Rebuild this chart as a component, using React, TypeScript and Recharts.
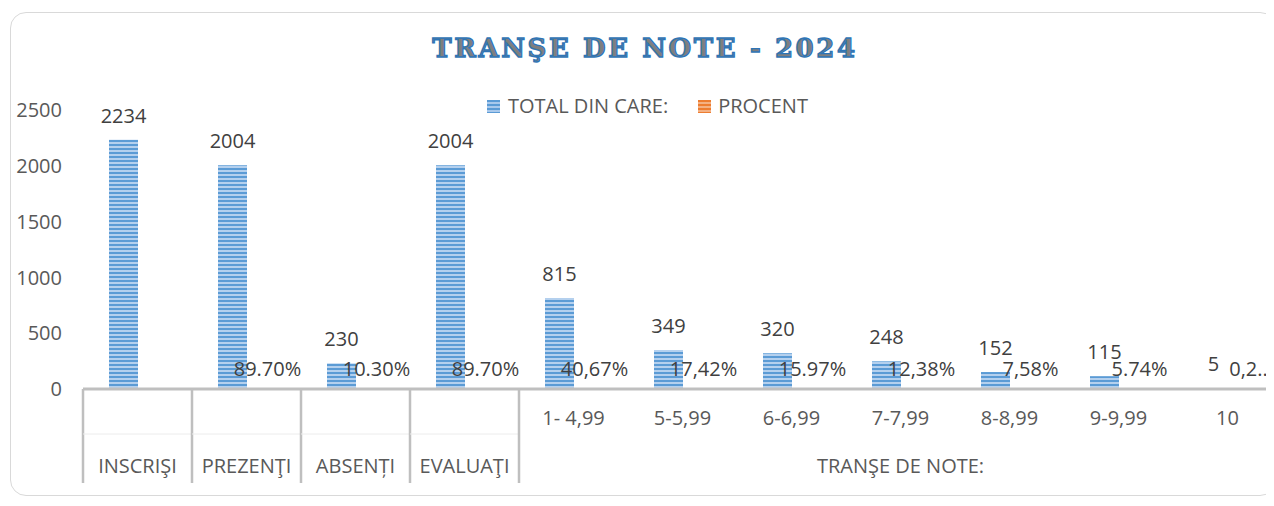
import React from "react";
import { BarChart, Bar, XAxis, YAxis, LabelList } from "recharts";

const categories = [
  "INSCRIŞI",
  "PREZENŢI",
  "ABSENȚI",
  "EVALUAŢI",
  "1- 4,99",
  "5-5,99",
  "6-6,99",
  "7-7,99",
  "8-8,99",
  "9-9,99",
  "10",
];
const totals = [2234, 2004, 230, 2004, 815, 349, 320, 248, 152, 115, 5];
const percents = [null, 0.897, 0.103, 0.897, 0.4067, 0.1742, 0.1597, 0.1238, 0.0758, 0.0574, 0.0025];
const percentLabels = ["", "89.70%", "10.30%", "89.70%", "40,67%", "17,42%", "15.97%", "12,38%", "7,58%", "5.74%", "0,2.."];
const yTicks = [0, 500, 1000, 1500, 2000, 2500];
const groupLabel = "TRANŞE DE NOTE:";
const groupStart = 4; // first category inside the "TRANŞE DE NOTE:" group

const data = categories.map((name, i) => ({
  name,
  total: totals[i],
  procent: percents[i],
  procentLabel: percentLabels[i],
}));

const FONT = "'Open Sans', sans-serif";
const LINE = "#bfbfbf";

const CategoryTick = (props: any) => {
  const { x, y, payload, index } = props;
  const half = payload.offset || 0;
  const left = x - half;
  const inGroup = index >= groupStart;
  const middle = Math.floor((groupStart + categories.length - 1) / 2);
  return (
    <g>
      {index <= groupStart && (
        <line x1={left} x2={left} y1={y} y2={y + 94} stroke={LINE} strokeWidth={2.5} />
      )}
      {!inGroup && (
        <line x1={left} x2={left + half * 2} y1={y + 45} y2={y + 45} stroke="#ececec" strokeWidth={1} />
      )}
      <text
        x={x}
        y={inGroup ? y + 36 : y + 84}
        textAnchor="middle"
        fill="#595959"
        fontSize={20}
        fontFamily={FONT}
      >
        {payload.value}
      </text>
      {index === middle && (
        <text x={x} y={y + 84} textAnchor="middle" fill="#595959" fontSize={20} fontFamily={FONT}>
          {groupLabel}
        </text>
      )}
    </g>
  );
};

const PercentLabel = (props: any) => {
  const { x, y, width, value } = props;
  if (!value) return null;
  return (
    <text x={x + width / 2 + 6} y={y - 13} textAnchor="middle" fill="#404040" fontSize={20} fontFamily={FONT}>
      {value}
    </text>
  );
};

const stripes = (a: string, b: string) =>
  `repeating-linear-gradient(180deg, ${a} 0px, ${a} 2px, ${b} 2px, ${b} 4px)`;

export default function App() {
  return (
    <div
      style={{
        position: "relative",
        width: 1274,
        height: 506,
        margin: "-8px 0 0 -8px",
        overflow: "hidden",
        background: "#fff",
        fontFamily: FONT,
      }}
    >
      <div
        style={{
          position: "absolute",
          left: 10,
          top: 12,
          width: 1266,
          height: 484,
          border: "1.5px solid #d9d9d9",
          borderRadius: 16,
          boxSizing: "border-box",
        }}
      />
      <div
        style={{
          position: "absolute",
          left: 0,
          width: 1290,
          top: 30,
          textAlign: "center",
          fontFamily: "'DejaVu Serif', serif",
          fontWeight: "bold",
          fontSize: 26,
          letterSpacing: 2.6,
          color: "#7f7f7f",
          WebkitTextStroke: "1.3px #2e75b6",
          lineHeight: "36px",
        }}
      >
        TRANŞE DE NOTE - 2024
      </div>
      <div
        style={{
          position: "absolute",
          left: 487,
          top: 92,
          display: "flex",
          alignItems: "center",
          fontSize: 20,
          color: "#595959",
          lineHeight: "28px",
          zIndex: 2,
        }}
      >
        <span style={{ width: 13, height: 13, background: stripes("#5b9bd5", "#a9c9ec"), marginRight: 8 }} />
        <span>TOTAL DIN CARE:</span>
        <span style={{ width: 13, height: 13, background: stripes("#ed7d31", "#f4b183"), marginLeft: 30, marginRight: 7 }} />
        <span>PROCENT</span>
      </div>
      <div style={{ position: "absolute", left: 0, top: 0 }}>
        <BarChart
          width={1290}
          height={506}
          data={data}
          margin={{ top: 110, right: 8, bottom: 17, left: 0 }}
          barGap={0}
          barSize={29}
        >
          <defs>
            <pattern id="blueStripes" width="8" height="4" patternUnits="userSpaceOnUse">
              <rect width="8" height="4" fill="#b4d0ee" />
              <rect width="8" height="2" fill="#5b9bd5" />
            </pattern>
            <pattern id="orangeStripes" width="8" height="4" patternUnits="userSpaceOnUse">
              <rect width="8" height="4" fill="#f4b183" />
              <rect width="8" height="2" fill="#ed7d31" />
            </pattern>
          </defs>
          <YAxis
            width={83}
            domain={[0, 2500]}
            ticks={yTicks}
            axisLine={false}
            tickLine={false}
            tickSize={0}
            tickMargin={21}
            tick={{ fill: "#595959", fontSize: 20, fontFamily: FONT }}
          />
          <XAxis
            dataKey="name"
            interval={0}
            height={100}
            tickLine={false}
            tickSize={0}
            tickMargin={0}
            axisLine={{ stroke: LINE, strokeWidth: 3 }}
            tick={<CategoryTick />}
          />
          <Bar dataKey="total" fill="url(#blueStripes)" isAnimationActive={false}>
            <LabelList dataKey="total" position="top" offset={17} fill="#404040" fontSize={20} fontFamily={FONT} />
          </Bar>
          <Bar dataKey="procent" fill="url(#orangeStripes)" isAnimationActive={false}>
            <LabelList dataKey="procentLabel" content={<PercentLabel />} />
          </Bar>
        </BarChart>
      </div>
    </div>
  );
}
